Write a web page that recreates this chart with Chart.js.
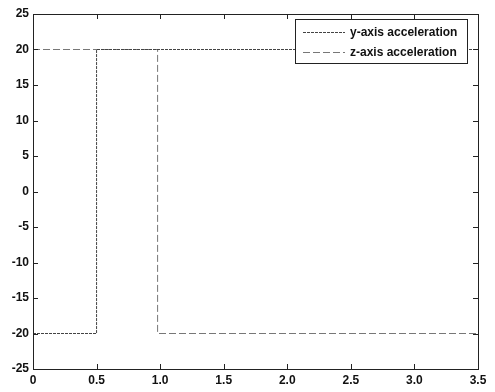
<!DOCTYPE html>
<html>
<head>
<meta charset="utf-8">
<script src="https://cdn.jsdelivr.net/npm/chart.js@4.4.0/dist/chart.umd.min.js"></script>
<style>
  html, body { margin: 0; padding: 0; background: #fff; }
  #wrap { position: relative; width: 495px; height: 392px; }
</style>
</head>
<body>
<div id="wrap"><canvas id="chart"></canvas></div>
<script>
// Step signals
const seriesNames = ['y-axis acceleration', 'z-axis acceleration'];
const yTimes = [0, 0.5, 0.5, 3.5];
const yValues = [-20, -20, 20, 20];
const zTimes = [0, 0.98, 0.98, 3.5];
const zValues = [20, 20, -20, -20];
const xTicks = [0, 0.5, 1, 1.5, 2, 2.5, 3, 3.5];
const yTicks = [-25, -20, -15, -10, -5, 0, 5, 10, 15, 20, 25];

function toPoints(xs, ys) {
    return xs.map(function (x, i) { return { x: x, y: ys[i] }; });
}

const FONT = 'bold 12px "Liberation Sans", Arial, sans-serif';

// MATLAB-like frame, inward ticks on all four sides, and a boxed legend
const framePlugin = {
    id: 'frame',
    afterDraw: function (chart) {
        const ctx = chart.ctx;
        const a = chart.chartArea;
        const xs = chart.scales.x, ys = chart.scales.y;
        ctx.save();
        ctx.strokeStyle = '#222';
        ctx.lineWidth = 1;
        ctx.setLineDash([]);
        ctx.strokeRect(a.left + 0.5, a.top + 0.5, a.right - a.left, a.bottom - a.top);
        ctx.beginPath();
        xTicks.forEach(function (v) {
            const px = Math.round(xs.getPixelForValue(v)) + 0.5;
            ctx.moveTo(px, a.bottom); ctx.lineTo(px, a.bottom - 5);
            ctx.moveTo(px, a.top); ctx.lineTo(px, a.top + 5);
        });
        yTicks.forEach(function (v) {
            const py = Math.round(ys.getPixelForValue(v)) + 0.5;
            ctx.moveTo(a.left, py); ctx.lineTo(a.left + 5, py);
            ctx.moveTo(a.right, py); ctx.lineTo(a.right - 5, py);
        });
        ctx.stroke();

        // legend box
        const bx = 295, by = 19, bw = 172, bh = 44;
        ctx.fillStyle = '#fff';
        ctx.fillRect(bx, by, bw, bh);
        ctx.strokeRect(bx + 0.5, by + 0.5, bw, bh);
        ctx.font = FONT;
        ctx.textBaseline = 'middle';
        chart.data.datasets.forEach(function (ds, i) {
            const ly = by + 13 + i * 20 + 0.5;
            ctx.strokeStyle = ds.borderColor;
            ctx.setLineDash(ds.borderDash || []);
            ctx.beginPath();
            ctx.moveTo(bx + 8, ly); ctx.lineTo(bx + 50, ly);
            ctx.stroke();
            ctx.fillStyle = '#111';
            ctx.fillText(ds.label, bx + 55, ly);
        });
        ctx.restore();
    }
};

new Chart(document.getElementById('chart'), {
    type: 'line',
    data: {
        datasets: [{
            label: seriesNames[0],
            data: toPoints(yTimes, yValues),
            borderColor: '#444',
            borderWidth: 1,
            borderDash: [3, 1],
            pointRadius: 0,
            tension: 0,
            fill: false
        }, {
            label: seriesNames[1],
            data: toPoints(zTimes, zValues),
            borderColor: '#777',
            borderWidth: 1,
            borderDash: [7, 3],
            pointRadius: 0,
            tension: 0,
            fill: false
        }]
    },
    options: {
        responsive: true,
        maintainAspectRatio: false,
        animation: false,
        layout: { padding: { top: 14, right: 17, left: 0, bottom: 0 } },
        plugins: {
            legend: { display: false },
            tooltip: { enabled: false }
        },
        scales: {
            x: {
                type: 'linear',
                min: 0,
                max: 3.5,
                afterBuildTicks: function (s) { s.ticks = xTicks.map(function (v) { return { value: v }; }); },
                afterFit: function (s) { s.height = 23; },
                grid: { display: false, drawTicks: false },
                border: { display: false },
                ticks: {
                    color: '#111',
                    padding: 4,
                    maxRotation: 0,
                    autoSkip: false,
                    font: { family: '"Liberation Sans", Arial, sans-serif', size: 12, weight: 'bold' }
                }
            },
            y: {
                type: 'linear',
                min: -25,
                max: 25,
                afterBuildTicks: function (s) { s.ticks = yTicks.map(function (v) { return { value: v }; }); },
                afterFit: function (s) { s.width = 33; },
                grid: { display: false, drawTicks: false },
                border: { display: false },
                ticks: {
                    color: '#111',
                    padding: 4,
                    autoSkip: false,
                    font: { family: '"Liberation Sans", Arial, sans-serif', size: 12, weight: 'bold' }
                }
            }
        }
    },
    plugins: [framePlugin]
});
</script>
</body>
</html>
